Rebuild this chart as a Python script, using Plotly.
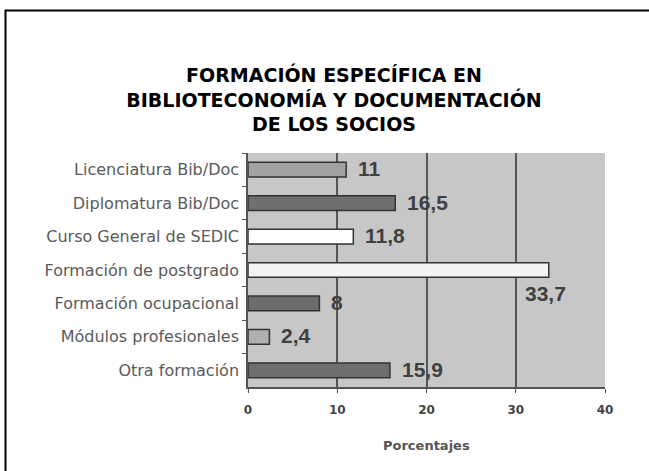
import plotly.graph_objects as go

categories = [
    "Licenciatura Bib/Doc",
    "Diplomatura Bib/Doc",
    "Curso General de SEDIC",
    "Formación de postgrado",
    "Formación ocupacional",
    "Módulos profesionales",
    "Otra formación",
]
values = [11, 16.5, 11.8, 33.7, 8, 2.4, 15.9]
value_labels = ["11", "16,5", "11,8", "33,7", "8", "2,4", "15,9"]
bar_colors = ["#a2a2a2", "#6f6f6f", "#ffffff", "#f4f4f4", "#6c6c6c", "#afafaf", "#6e6e6e"]
x_ticks = [0, 10, 20, 30, 40]

W, H = 649, 471
L, R, T, B = 248, 44, 153, 84
pw, ph = W - L - R, H - T - B

fig = go.Figure()
fig.add_trace(go.Bar(
    y=categories, x=values, orientation="h",
    marker=dict(color=bar_colors, line=dict(color="#333333", width=1.5)),
    width=0.44, hoverinfo="skip",
))

label_font = dict(family="Liberation Sans, Arial", size=21, color="#404040", weight="bold")
annotations = []
for c, v, t in zip(categories, values, value_labels):
    if v > 30:
        annotations.append(dict(x=v, y=c, xref="x", yref="y", text=t, showarrow=False,
                                xanchor="center", yanchor="middle", xshift=-3, yshift=-23,
                                font=label_font))
    else:
        annotations.append(dict(x=v, y=c, xref="x", yref="y", text=t, showarrow=False,
                                xanchor="left", yanchor="middle", xshift=10, yshift=1,
                                font=label_font))

annotations.append(dict(
    x=0.5, y=-0.25, xref="paper", yref="paper", showarrow=False,
    text="Porcentajes", xanchor="center", yanchor="middle",
    font=dict(family="DejaVu Sans", size=13, color="#555555", weight="bold"),
))

fig.update_layout(
    width=W, height=H,
    margin=dict(l=L, r=R, t=T, b=B, autoexpand=False),
    paper_bgcolor="white",
    plot_bgcolor="#c7c7c7",
    showlegend=False,
    title=dict(
        text="FORMACIÓN ESPECÍFICA EN<br>BIBLIOTECONOMÍA Y DOCUMENTACIÓN<br>DE LOS SOCIOS",
        x=334 / W, xanchor="center", xref="container",
        y=1 - 82 / H, yanchor="middle", yref="container",
        font=dict(family="DejaVu Sans", size=19, color="black", weight="bold"),
    ),
    xaxis=dict(
        range=[0, 40], tickvals=x_ticks, ticktext=[str(v) for v in x_ticks],
        showgrid=True, gridcolor="#555555", gridwidth=1.5,
        showline=True, linecolor="#555555", linewidth=1.5,
        ticks="outside", ticklen=4, tickcolor="#555555",
        tickfont=dict(family="DejaVu Sans", size=12, color="#444444", weight="bold"),
        ticklabelstandoff=7,
        zeroline=False, fixedrange=True,
    ),
    yaxis=dict(
        autorange="reversed", type="category",
        showline=True, linecolor="#555555", linewidth=1.5,
        ticks="outside", ticklen=4, tickcolor="#555555", tickson="boundaries",
        tickfont=dict(family="DejaVu Sans", size=16, color="#5a5a5a"),
        showgrid=False, fixedrange=True, ticklabelstandoff=4,
    ),
    annotations=annotations,
    shapes=[dict(
        type="rect", xref="paper", yref="paper",
        x0=(5.5 - L) / pw, x1=(W + 20 - L) / pw,
        y0=(H - B - (H + 20)) / ph, y1=(H - B - 10.5) / ph,
        line=dict(color="black", width=2), layer="above",
    )],
)

fig.write_html(
    "out.html",
    config={"displayModeBar": False},
    post_script="document.body.style.margin='0';document.body.style.overflow='hidden';",
)
